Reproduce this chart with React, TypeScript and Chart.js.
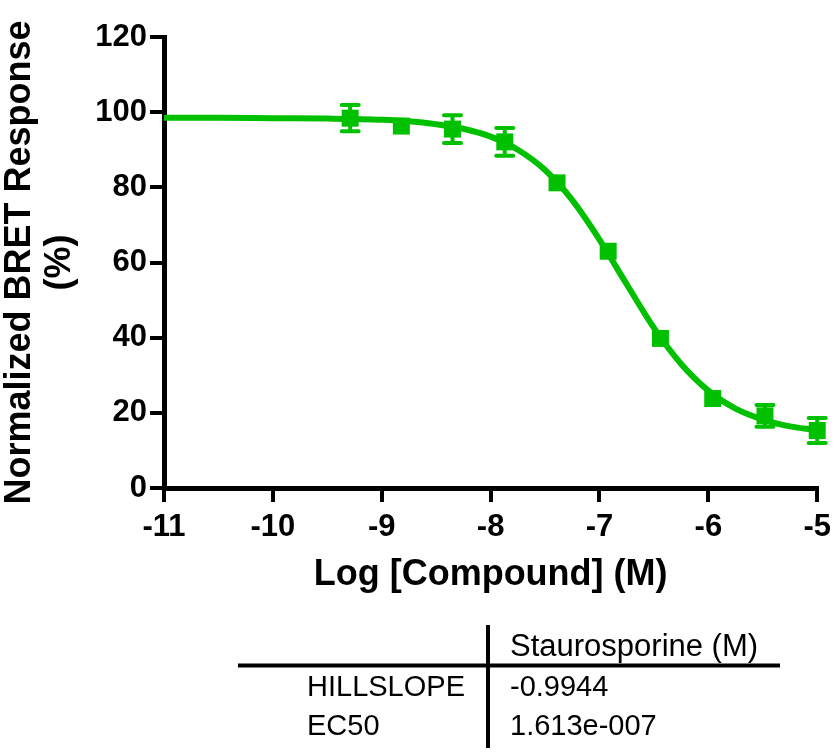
import React, { useEffect, useRef } from "react";
import { Chart, registerables } from "chart.js";

Chart.register(...registerables);

// Fitted curve samples
const curveX = [-11, -10.5, -10, -9.5, -9, -8.75, -8.5, -8.25, -8, -7.75, -7.5, -7.25, -7, -6.75, -6.5, -6.25, -6, -5.75, -5.5, -5.25, -5];
const curveY = [98.5, 98.5, 98.4, 98.3, 98.0, 97.6, 96.8, 95.6, 93.5, 90.0, 84.6, 76.6, 66.1, 54.2, 42.6, 33.0, 25.9, 21.1, 18.2, 16.4, 15.4];

// Measured points (mean ± error)
const pointX = [-9.29, -8.82, -8.35, -7.87, -7.39, -6.92, -6.44, -5.96, -5.48, -5.0];
const meanY = [98.4, 96.3, 95.5, 92.1, 81.2, 63.0, 39.8, 23.8, 19.2, 15.3];
const errY = [3.5, 1.0, 3.7, 3.7, 1.2, 1.0, 1.0, 1.0, 2.9, 3.3];

// Table
const tableHeader = "Staurosporine (M)";
const tableRowLabels = ["HILLSLOPE", "EC50"];
const tableRowValues = ["-0.9944", "1.613e-007"];

const yTitle = ["Normalized BRET Response", "(%)"];
const xTitle = "Log [Compound] (M)";

const GREEN = "#00C000";
const FONT = "'Liberation Sans', Arial, Helvetica, sans-serif";
const MARKER_R = 12;

const errorBarPlugin = {
  id: "errorBars",
  afterDatasetsDraw(chart: any) {
    const ctx = chart.ctx;
    const xs = chart.scales.x;
    const ys = chart.scales.y;
    const half = MARKER_R * Math.SQRT1_2;
    ctx.save();
    ctx.strokeStyle = GREEN;
    ctx.lineWidth = 4;
    ctx.lineCap = "round";
    pointX.forEach((x, i) => {
      const px = xs.getPixelForValue(x);
      const py = ys.getPixelForValue(meanY[i]);
      const yTop = ys.getPixelForValue(meanY[i] + errY[i]);
      const yBot = ys.getPixelForValue(meanY[i] - errY[i]);
      if (py - yTop <= half) return;
      ctx.beginPath();
      ctx.moveTo(px, yTop);
      ctx.lineTo(px, yBot);
      ctx.moveTo(px - 8.5, yTop);
      ctx.lineTo(px + 8.5, yTop);
      ctx.moveTo(px - 8.5, yBot);
      ctx.lineTo(px + 8.5, yBot);
      ctx.stroke();
    });
    ctx.restore();
  },
};

const tablePlugin = {
  id: "paramTable",
  afterDraw(chart: any) {
    const ctx = chart.ctx;
    ctx.save();
    ctx.strokeStyle = "#000";
    ctx.lineWidth = 4;
    ctx.lineCap = "butt";
    ctx.beginPath();
    ctx.moveTo(238, 665.5);
    ctx.lineTo(780, 665.5);
    ctx.moveTo(488, 625);
    ctx.lineTo(488, 748);
    ctx.stroke();
    ctx.fillStyle = "#000";
    ctx.textAlign = "left";
    ctx.textBaseline = "alphabetic";
    ctx.font = `31px ${FONT}`;
    ctx.fillText(tableHeader, 510, 656);
    ctx.font = `29px ${FONT}`;
    const rowY = [696, 735];
    tableRowLabels.forEach((t, i) => ctx.fillText(t, 307, rowY[i]));
    tableRowValues.forEach((t, i) => ctx.fillText(t, 510, rowY[i]));
    ctx.restore();
  },
};

export default function App() {
  const ref = useRef<HTMLCanvasElement | null>(null);

  useEffect(() => {
    document.body.style.margin = "0";
    if (!ref.current) return;
    const chart = new Chart(ref.current, {
      type: "line",
      data: {
        datasets: [
          {
            label: "fit",
            data: curveX.map((x, i) => ({ x, y: curveY[i] })),
            borderColor: GREEN,
            borderWidth: 6,
            pointRadius: 0,
            fill: false,
            cubicInterpolationMode: "monotone",
            clip: false as any,
          },
          {
            label: "Staurosporine",
            data: pointX.map((x, i) => ({ x, y: meanY[i] })),
            showLine: false,
            pointStyle: "rect",
            pointRadius: MARKER_R,
            pointBackgroundColor: GREEN,
            pointBorderColor: GREEN,
            pointBorderWidth: 0,
            backgroundColor: GREEN,
            borderColor: GREEN,
            clip: false as any,
          },
        ],
      },
      options: {
        animation: false,
        responsive: false,
        devicePixelRatio: 1,
        layout: { padding: { left: 0, right: 20, top: 37, bottom: 155 } },
        plugins: {
          legend: { display: false },
          tooltip: { enabled: false },
        },
        scales: {
          x: {
            type: "linear",
            min: -11,
            max: -5,
            ticks: {
              stepSize: 1,
              color: "#000",
              padding: 7,
              font: { family: FONT, size: 31, weight: "bold" },
            },
            grid: {
              drawOnChartArea: false,
              drawTicks: true,
              tickLength: 14,
              color: "#000",
              lineWidth: 4,
            },
            border: { display: true, color: "#000", width: 5 },
            title: {
              display: true,
              text: xTitle,
              color: "#000",
              padding: 0,
              font: { family: FONT, size: 36, weight: "bold" },
            },
            afterFit: (s: any) => {
              s.height = 109;
            },
          },
          y: {
            type: "linear",
            min: 0,
            max: 120,
            ticks: {
              stepSize: 20,
              color: "#000",
              padding: 3,
              font: { family: FONT, size: 31, weight: "bold" },
            },
            grid: {
              drawOnChartArea: false,
              drawTicks: true,
              tickLength: 14,
              color: "#000",
              lineWidth: 4,
            },
            border: { display: true, color: "#000", width: 5 },
            title: {
              display: true,
              text: yTitle,
              color: "#000",
              padding: 0,
              font: { family: FONT, size: 36, weight: "bold", lineHeight: 1.12 },
            },
            afterFit: (s: any) => {
              s.width = 164;
            },
          },
        },
      },
      plugins: [errorBarPlugin, tablePlugin],
    });
    return () => chart.destroy();
  }, []);

  return (
    <div style={{ position: "absolute", left: 0, top: 0, width: 838, height: 752, background: "#fff" }}>
      <canvas ref={ref} width={838} height={752} style={{ width: 838, height: 752 }} />
    </div>
  );
}
